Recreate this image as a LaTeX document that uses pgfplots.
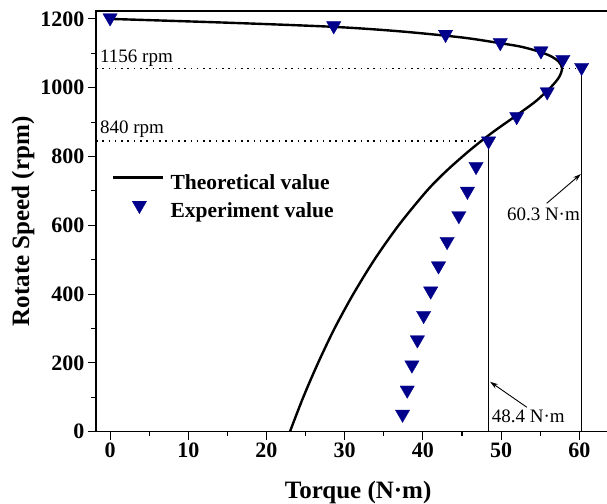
\documentclass[border=0pt]{standalone}
\usepackage{fontspec}
\setmainfont{Liberation Serif}
\usepackage{pgfplots}
\pgfplotsset{compat=1.18}
\usetikzlibrary{arrows.meta}
\definecolor{expblue}{RGB}{0,0,139}

% theoretical torque-speed characteristic
\pgfplotstableread{
T     n
0     1200
15    1189
28.5  1177
37    1164
45    1146
50    1129
52.6  1119
55.0  1104
56.5  1090
57.4  1075
57.8  1056
57.4  1030
56.3  1000
54.4  960
52.0  920
48.9  870
46.1  820
43.1  760
40.5  700
36.9  600
33.8  500
31.1  400
28.7  300
26.6  200
24.7  100
23.0  0
}\theory

% measured points
\pgfplotstableread{
T     n
0     1203
28.6  1180
42.9  1155
49.9  1131
55.1  1107
57.9  1082
60.3  1059
55.9  988
52.0  916
48.4  845
46.8  771
45.7  699
44.6  628
43.1  553
42.0  482
41.0  409
40.1  338
39.3  267
38.6  194
38.0  121
37.4  51
}\experiment

\pgfplotsset{
  theory legend/.style={legend image code/.code={%
    \draw[black, line width=2.4pt] (0pt,7pt) -- (50pt,7pt);}},
  exp legend/.style={legend image code/.code={%
    \draw[only marks, mark=triangle*, mark size=8.3pt,
      mark options={rotate=180, fill=expblue, draw=expblue, line width=0.3pt}]
      plot coordinates {(26pt,7pt)};}},
}

\begin{document}
\begin{tikzpicture}
\begin{axis}[
  scale only axis, width=514pt, height=420.7pt,
  xmin=-1.8, xmax=63.93, ymin=0, ymax=1223,
  clip=false,
  axis line style={line width=1.3pt},
  tick align=outside, tick pos=left,
  xtick={0,10,...,60}, ytick={0,200,...,1200},
  minor x tick num=1, minor y tick num=1,
  major tick length=8pt, minor tick length=4.5pt,
  every tick/.style={black, line width=1.1pt},
  /pgf/number format/assume math mode=true,
  /pgf/number format/1000 sep={},
  tick label style={font=\fontsize{22}{24}\selectfont\bfseries},
  xlabel={Torque (N·m)}, ylabel={Rotate Speed (rpm)},
  label style={font=\fontsize{25}{28}\selectfont\bfseries},
  xlabel style={at={(axis description cs:0.51,-0.145)}, anchor=center},
  ylabel style={at={(axis description cs:-0.142,0.5)}, anchor=center},
  legend style={at={(axis cs:0.25,753)}, anchor=north west, draw=none, fill=none,
    inner sep=0pt, font=\fontsize{21.5}{24}\selectfont\bfseries,
    row sep=5pt, column sep=5pt,
    nodes={inner sep=1pt, text height=16pt, text depth=5pt}},
  legend cell align=left,
]
% guide lines
\addplot[forget plot, black, line width=1.1pt, dash pattern=on 1.6pt off 4.7pt]
  coordinates {(-1.8,1056) (60.3,1056)};
\addplot[forget plot, black, line width=1.1pt, dash pattern=on 1.6pt off 4.7pt]
  coordinates {(-1.8,845) (48.4,845)};
\addplot[forget plot, black, line width=1pt] coordinates {(60.3,1056) (60.3,0)};
\addplot[forget plot, black, line width=1pt] coordinates {(48.4,845) (48.4,0)};

\addplot[black, line width=2.4pt, smooth, no marks, theory legend]
  table[x=T, y=n] {\theory};
\addlegendentry{Theoretical value}

\addplot[only marks, mark=triangle*, mark size=8.3pt,
  mark options={rotate=180, fill=expblue, draw=expblue, line width=0.3pt},
  exp legend]
  table[x=T, y=n] {\experiment};
\addlegendentry{Experiment value}

% annotations
\node[anchor=base west, inner sep=0pt, font=\fontsize{19}{21}\selectfont]
  at (axis cs:-1.29,1072) {1156 rpm};
\node[anchor=base west, inner sep=0pt, font=\fontsize{19}{21}\selectfont]
  at (axis cs:-1.29,867) {840 rpm};
\node[anchor=base east, inner sep=0pt, font=\fontsize{19}{21}\selectfont]
  at (axis cs:60.1,613) {60.3 N·m};
\node[anchor=base west, inner sep=0pt, font=\fontsize{19}{21}\selectfont]
  at (axis cs:48.8,26) {48.4 N·m};
\draw[-{Stealth[length=8pt,width=5pt]}, line width=0.9pt]
  (axis cs:55.84,664) -- (axis cs:60.2,749);
\draw[-{Stealth[length=8pt,width=5pt]}, line width=0.9pt]
  (axis cs:53.3,71) -- (axis cs:48.6,145);
\end{axis}
\pgfresetboundingbox
\useasboundingbox (-96pt,-71.3pt) rectangle (511pt,431.7pt);
\end{tikzpicture}
\end{document}
